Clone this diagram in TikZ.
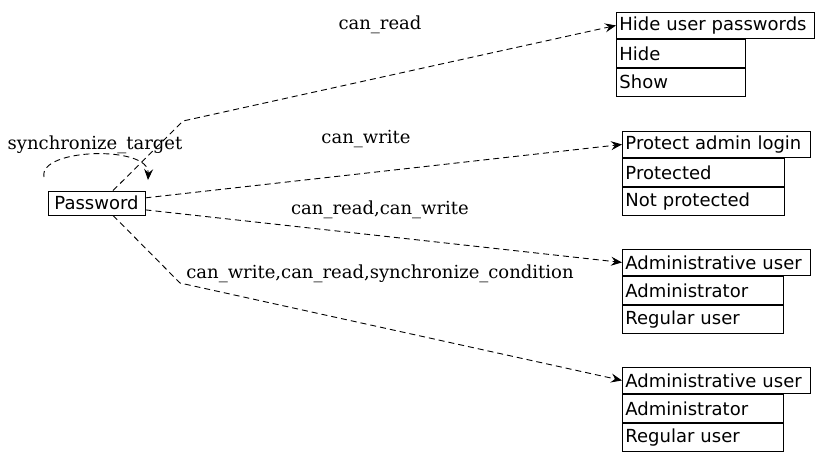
\documentclass[tikz,border=0pt]{standalone}
\usepackage{fontspec}
\setmainfont{DejaVu Serif}
\newfontfamily\boxfont{DejaVu Sans}
\usetikzlibrary{arrows.meta}
\tikzset{
  obj/.style={draw, line width=0.9pt, inner sep=0pt, minimum height=24pt,
    font=\boxfont\fontsize{18}{20}\selectfont},
  hdr/.style={draw, line width=0.9pt, anchor=north west, inner xsep=3pt, inner ysep=0pt,
    minimum height=26pt, align=left, font=\boxfont\fontsize{18}{20}\selectfont},
  cell/.style={hdr, minimum height=28pt},
  lbl/.style={font=\fontsize{18}{20}\selectfont},
  rel/.style={line width=0.9pt, dash pattern=on 6pt off 4pt,
    -{Stealth[length=11pt,width=9pt,inset=4pt]}}
}
\begin{document}
\begin{tikzpicture}[x=1pt, y=-1pt]
		\useasboundingbox (0,0) rectangle (833,461);
		% Objekt
		\node[obj, minimum width=97pt] (pw) at (96.5,203) {Password};
		
		% Tabellen
		\node[hdr, text width=192pt] (hide) at (616,12) {Hide user passwords};
		\node[cell, text width=123pt] (hide1) at (hide.south west) {Hide};
		\node[cell, text width=123pt] (hide2) at (hide1.south west) {Show};
		
		\node[hdr, text width=182pt] (prot) at (622,131) {Protect admin login};
		\node[cell, text width=156pt] (prot1) at (prot.south west) {Protected};
		\node[cell, text width=156pt] (prot2) at (prot1.south west) {Not protected};
		
		\node[hdr, text width=182pt] (adma) at (622,249) {Administrative user};
		\node[cell, text width=155pt] (adma1) at (adma.south west) {Administrator};
		\node[cell, text width=155pt] (adma2) at (adma1.south west) {Regular user};
		
		\node[hdr, text width=182pt] (admb) at (622,367) {Administrative user};
		\node[cell, text width=155pt] (admb1) at (admb.south west) {Administrator};
		\node[cell, text width=155pt] (admb2) at (admb1.south west) {Regular user};
		
		% Knicke und Schleife
		\coordinate (kHide) at (183,121);
		\coordinate (kAdm) at (180,283);
		\coordinate (loopS) at (44,177);
		\coordinate (loopE) at (148,180);
		
		\draw[rel] (pw.37) -- (kHide) -- (hide.west);
		\draw[rel] (pw.6) -- (prot.west);
		\draw[rel] (pw.-8) -- (adma.west);
		\draw[rel] (pw.-37) -- (kAdm) -- (admb.west);
		\draw[rel] (loopS) .. controls (38,148) and (150,145) .. (loopE);
		
		% Beschriftungen
		\node[lbl] (lRead) at (380,25) {can\_read};
		\node[lbl] (lWrite) at (366,139) {can\_write};
		\node[lbl] (lBoth) at (380,210) {can\_read,can\_write};
		\node[lbl] (lAll) at (380,274) {can\_write,can\_read,synchronize\_condition};
		\node[lbl] (lSync) at (95,145) {synchronize\_target};
	\end{tikzpicture}
\end{document}
